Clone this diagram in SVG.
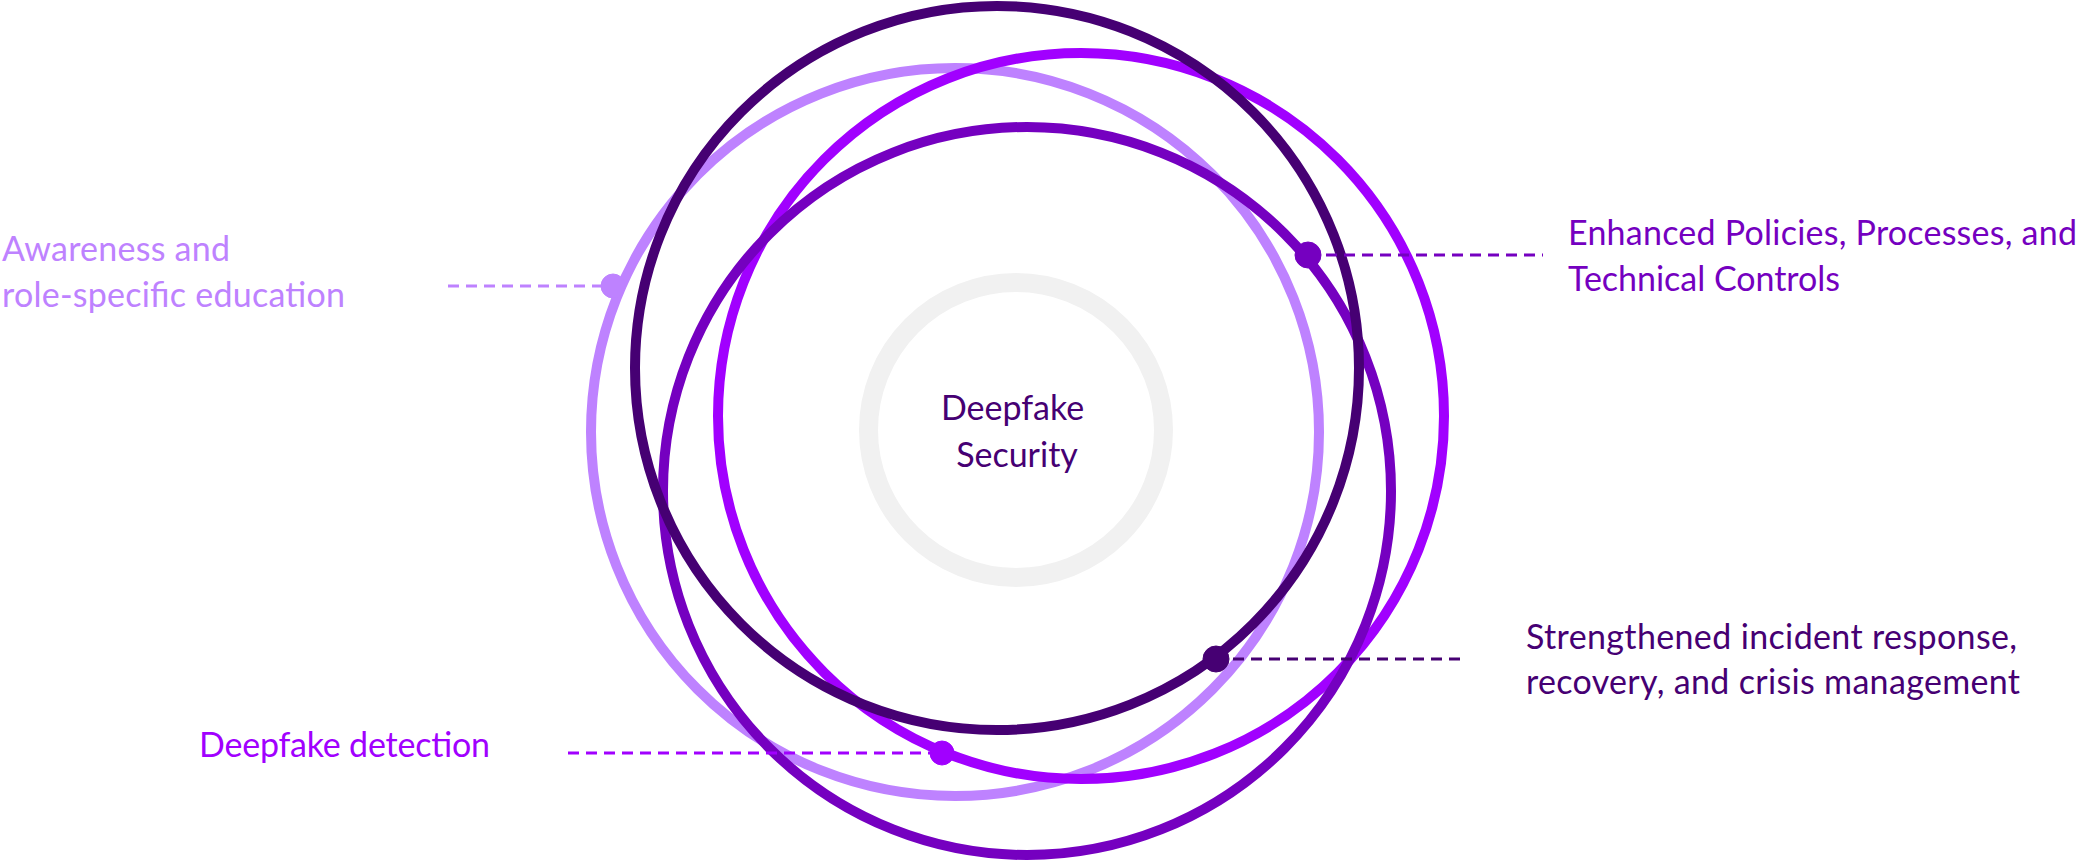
<svg xmlns="http://www.w3.org/2000/svg" width="2079" height="861" viewBox="0 0 2079 861">
  <style>
    .ring { fill: none; stroke-width: 10; }
    .core { fill: none; stroke: #F1F1F1; stroke-width: 19; }
    .lead { fill: none; stroke-width: 3; stroke-dasharray: 11 7; }
    .label { font-family: Lato, "Liberation Sans", sans-serif; font-size: 34px; }
    .c1 { stroke: #BE82FF; fill: #BE82FF; }
    .c2 { stroke: #A100FF; fill: #A100FF; }
    .c3 { stroke: #7500C0; fill: #7500C0; }
    .c4 { stroke: #460073; fill: #460073; }
  </style>
  <rect width="2079" height="861" fill="#FFFFFF"/>

  <!-- centre ring -->
  <g id="core">
    <circle class="core" cx="1016" cy="430" r="147.5"/>
    <text class="label" fill="#460073" text-anchor="middle">
      <tspan x="1017" y="420">Deepfake</tspan>
      <tspan x="1017" y="467">Security</tspan>
    </text>
  </g>

  <!-- orbit rings -->
  <g id="rings">
    <circle class="ring c1" style="fill:none" cx="955" cy="432" r="364"/>
    <circle class="ring c2" style="fill:none" cx="1081" cy="416" r="363"/>
    <circle class="ring c3" style="fill:none" cx="1027" cy="491" r="364"/>
    <circle class="ring c4" style="fill:none" cx="997" cy="368" r="362"/>
  </g>

  <!-- leader lines -->
  <g id="connectors">
    <line class="lead c1" x1="448" y1="286" x2="613" y2="286"/>
    <line class="lead c3" x1="1308" y1="255" x2="1543" y2="255"/>
    <line class="lead c4" x1="1215" y1="659" x2="1460" y2="659"/>
    <line class="lead c2" x1="568" y1="753" x2="943" y2="753"/>
  </g>

  <g id="awareness">
    <circle class="c1" cx="613" cy="286" r="12"/>
    <text class="label" fill="#BE82FF">
      <tspan x="2" y="261" textLength="228">Awareness and</tspan>
      <tspan x="2" y="307" textLength="343">role-specific education</tspan>
    </text>
  </g>

  <g id="policies">
    <circle class="c3" cx="1308" cy="255" r="13"/>
    <text class="label" fill="#7500C0">
      <tspan x="1568" y="245" textLength="509">Enhanced Policies, Processes, and</tspan>
      <tspan x="1568" y="291" textLength="272">Technical Controls</tspan>
    </text>
  </g>

  <g id="incident">
    <circle class="c4" cx="1216" cy="659" r="13"/>
    <text class="label" fill="#460073">
      <tspan x="1526" y="649" textLength="491">Strengthened incident response,</tspan>
      <tspan x="1526" y="694" textLength="494">recovery, and crisis management</tspan>
    </text>
  </g>

  <g id="detection">
    <circle class="c2" cx="942" cy="753" r="12"/>
    <text class="label" fill="#A100FF" x="199" y="757" textLength="291">Deepfake detection</text>
  </g>
</svg>
